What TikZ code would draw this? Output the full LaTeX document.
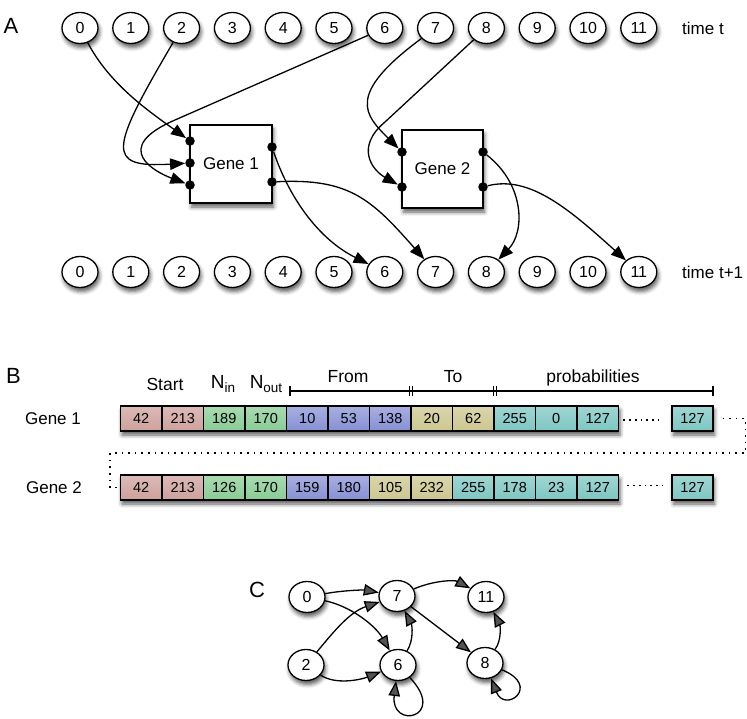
\documentclass[tikz,border=0pt]{standalone}
\usepackage{fontspec}
\setmainfont{Liberation Sans}
\usetikzlibrary{arrows.meta,shapes.geometric,shadows.blur}
\definecolor{cpk}{RGB}{206,160,155}
\definecolor{cgr}{RGB}{136,204,148}
\definecolor{cbl}{RGB}{134,144,212}
\definecolor{cye}{RGB}{204,198,142}
\definecolor{ccy}{RGB}{124,198,194}
\tikzset{
  softshadow/.style={blur shadow={shadow xshift=1.5pt, shadow yshift=-4pt, shadow blur radius=4pt, shadow opacity=65}},
  stnode/.style={ellipse, draw=black, line width=1.3pt, fill=white, minimum width=36pt, minimum height=31pt, inner sep=0pt, font=\fontsize{16}{18}\selectfont, softshadow},
  genebox/.style={rectangle, draw=black, line width=1.4pt, fill=white, minimum width=82pt, minimum height=78pt, font=\fontsize{17}{20}\selectfont, softshadow},
  port/.style={circle, fill=black, inner sep=0pt, minimum size=9.5pt},
  arr/.style={-{Triangle[length=15pt,width=11.5pt]}, line width=1.3pt},
  cell/.style={rectangle, draw=black, line width=1.2pt, minimum width=41.5pt, minimum height=25pt, inner sep=0pt, font=\fontsize{14.5}{16}\selectfont},
  lbl/.style={font=\fontsize{17}{20}\selectfont, inner sep=0pt},
  hdr/.style={font=\fontsize{17.5}{20}\selectfont, inner sep=0pt, anchor=base},
  panel/.style={font=\fontsize{22}{24}\selectfont, inner sep=0pt},
  dotconn/.style={line width=1.5pt, dash pattern=on 1.6pt off 5pt},
  rowdots/.style={line width=1.8pt, dash pattern=on 1.8pt off 4pt},
  brk/.style={line width=1.3pt},
}
\begin{document}
\begin{tikzpicture}[x=1pt,y=-1pt]
\useasboundingbox (0,0) rectangle (747,719);

% ---------------- Panel A ----------------
\node[panel] (pA) at (11,26) {A};
\foreach \i in {0,...,11}{
  \node[stnode] (t\i) at (80+50.8*\i,28) {\i};
  \node[stnode] (b\i) at (80+50.8*\i,272) {\i};
}
\node[lbl, anchor=west] (tt) at (682,28) {time t};
\node[lbl, anchor=west] (tt1) at (682,272) {time t+1};

\node[genebox] (g1) at (231,164) {Gene 1};
\node[genebox, minimum width=81pt] (g2) at (442.5,169) {Gene 2};

\node[port] (p1a) at (190,141) {};
\node[port] (p1b) at (190,163) {};
\node[port] (p1c) at (190,185) {};
\node[port] (q1a) at (272,147) {};
\node[port] (q1b) at (272,182) {};
\node[port] (p2a) at (402,152) {};
\node[port] (p2b) at (402,187) {};
\node[port] (q2a) at (483,152) {};
\node[port] (q2b) at (483,187) {};

\coordinate (v6) at (175,120);
\coordinate (v8) at (385,122);

\draw[arr] (t0) .. controls (110,85) and (150,112) .. (p1a);
\draw[arr] (t2) .. controls (110,150) and (105,168) .. (p1b);
\draw[arr] (t6) -- (v6) .. controls (110,148) and (155,172) .. (p1c);
\draw[arr] (t7) .. controls (345,95) and (365,115) .. (p2a);
\draw[arr] (t8) -- (v8) .. controls (355,147) and (372,170) .. (p2b);
\draw[arr] (q1a) .. controls (290,200) and (320,240) .. (b6);
\draw[arr] (q1b) .. controls (350,178) and (372,200) .. (b7);
\draw[arr] (q2a) .. controls (525,185) and (525,232) .. (b8);
\draw[arr] (q2b) .. controls (530,175) and (570,210) .. (b11);

% ---------------- Panel B ----------------
\node[panel] (pB) at (13.5,376) {B};
\node[hdr] (hS) at (165,390) {Start};
\node[hdr] (hNi) at (223,388) {\fontsize{19}{20}\selectfont N\raisebox{-4pt}{\fontsize{13.5}{14}\selectfont in}};
\node[hdr] (hNo) at (266,388) {\fontsize{19}{20}\selectfont N\raisebox{-4pt}{\fontsize{13.5}{14}\selectfont out}};
\node[hdr] (hF) at (348,382) {From};
\node[hdr] (hT) at (453,382) {To};
\node[hdr] (hP) at (593,382) {probabilities};

\coordinate (k0) at (290,391);
\coordinate (k1) at (411,391);
\coordinate (k2) at (495,391);
\coordinate (k3) at (713,391);
\draw[brk] (k0) -- (k3);
\draw[brk] ([yshift=-5pt]k0) -- ([yshift=5pt]k0);
\draw[brk] ([yshift=-5pt]k3) -- ([yshift=5pt]k3);
\foreach \k in {k1,k2}{
  \draw[brk] ([xshift=-1.3pt,yshift=-5pt]\k) -- ([xshift=-1.3pt,yshift=5pt]\k);
  \draw[brk] ([xshift=1.3pt,yshift=-5pt]\k) -- ([xshift=1.3pt,yshift=5pt]\k);
}

\node[lbl] (lg1) at (53,418.5) {Gene 1};
\node[lbl] (lg2) at (54,487.5) {Gene 2};

% row shadows
\path[softshadow, fill=white] (120.5,406) rectangle (618.5,431);
\path[softshadow, fill=white] (672,406) rectangle (713,431);
\path[softshadow, fill=white] (120.5,475) rectangle (618.5,500);
\path[softshadow, fill=white] (672,475) rectangle (713,500);

\foreach \v/\s [count=\i from 0] in {42/cpk,213/cpk,189/cgr,170/cgr,10/cbl,53/cbl,138/cbl,20/cye,62/cye,255/ccy,0/ccy,127/ccy}
  \node[cell, top color=\s!72!white, bottom color=\s] (ga\i) at (141.25+41.5*\i,418.5) {\v};
\foreach \v/\s [count=\i from 0] in {42/cpk,213/cpk,126/cgr,170/cgr,159/cbl,180/cbl,105/cye,232/cye,255/ccy,178/ccy,23/ccy,127/ccy}
  \node[cell, top color=\s!72!white, bottom color=\s] (gb\i) at (141.25+41.5*\i,487.5) {\v};
\node[cell, minimum width=41pt, top color=ccy!72!white, bottom color=ccy] (gaL) at (692.5,418.5) {127};
\node[cell, minimum width=41pt, top color=ccy!72!white, bottom color=ccy] (gbL) at (692.5,487.5) {127};

\draw[rowdots] ([xshift=4pt,yshift=-1.5pt]ga11.east) -- ([xshift=-13pt,yshift=-1.5pt]gaL.west);
\draw[rowdots] ([xshift=8pt,yshift=2pt]gb11.east) -- ([xshift=-9pt,yshift=2pt]gbL.west);

\coordinate (dc1) at (745.5,418.5);
\coordinate (dc2) at (745.5,453);
\coordinate (dc3) at (110,453);
\coordinate (dc4) at (110,487.5);
\draw[dotconn] ([xshift=9pt]gaL.east) -- (dc1) -- (dc2) -- (dc3) -- (dc4) -- (gb0.west);

% ---------------- Panel C ----------------
\node[panel] (pC) at (257,590) {C};
\node[stnode] (c0) at (307,597) {0};
\node[stnode] (c7) at (397,596) {7};
\node[stnode] (c11) at (486,597) {11};
\node[stnode] (c2) at (306,665) {2};
\node[stnode] (c6) at (398,665) {6};
\node[stnode] (c8) at (485,663) {8};

\draw[arr] (c0) .. controls (345,590) and (365,590) .. (c7);
\draw[arr] (c0) .. controls (350,606) and (375,625) .. (c6);
\draw[arr] (c2) .. controls (335,630) and (350,612) .. (c7);
\draw[arr] (c2) .. controls (335,685) and (360,680) .. (c6);
\draw[arr] (c6) .. controls (414,640) and (412,625) .. (c7);
\draw[arr] (c6) .. controls (448,718) and (390,730) .. (c6);
\draw[arr] (c7) .. controls (435,580) and (455,580) .. (c11);
\draw[arr] (c7) -- (c8);
\draw[arr] (c8) .. controls (502,640) and (500,625) .. (c11);
\draw[arr] (c8) .. controls (542,686) and (505,714) .. (c8);
\end{tikzpicture}
\end{document}
